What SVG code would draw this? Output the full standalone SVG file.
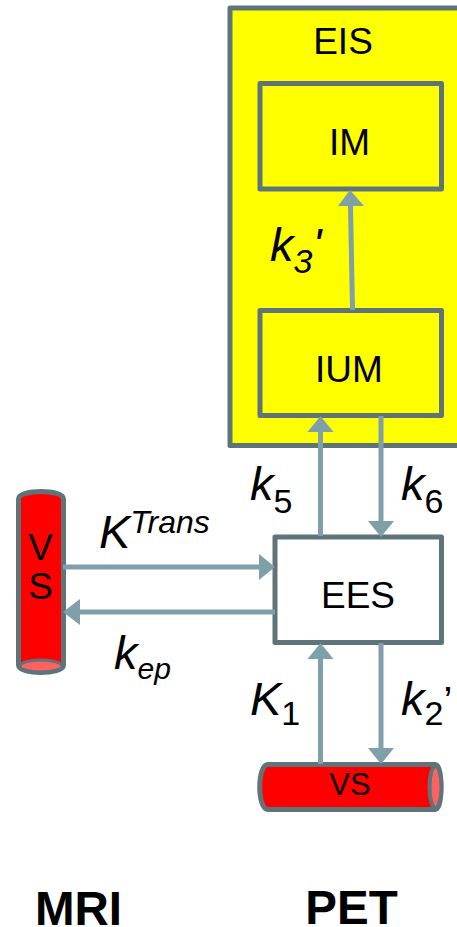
<svg xmlns="http://www.w3.org/2000/svg" width="457" height="927" viewBox="0 0 457 927">
<defs>
<style>
text{font-family:"Liberation Sans",Arial,sans-serif;fill:#000}
.box{stroke:#5f7479;stroke-width:5;stroke-linejoin:round}
.lbl{font-size:37px}
.k{font-size:47px;font-style:italic}
.sub{font-size:34px}
.b{font-size:47.5px;font-weight:bold}
.c{fill:none;stroke:#7f9fa9;stroke-width:5}
.h{fill:#7f9fa9}
</style>
</defs>
<rect width="457" height="927" fill="#fff"/>
<g id="eis">
<path class="box" fill="#ff0" d="M460 8H230V445.500H460"/>
<text class="lbl" x="343" y="54" text-anchor="middle">EIS</text>
</g>
<g id="im">
<rect class="box" fill="#ff0" x="260" y="83.500" width="181.500" height="105.500"/>
<text class="lbl" x="349.500" y="155" text-anchor="middle">IM</text>
</g>
<g id="ium">
<rect class="box" fill="#ff0" x="260" y="310.500" width="181.500" height="105"/>
<text class="lbl" x="349" y="382" text-anchor="middle">IUM</text>
</g>
<g id="ees">
<rect class="box" fill="#fff" x="275" y="537" width="166.500" height="105.500"/>
<text class="lbl" x="358" y="608" text-anchor="middle">EES</text>
</g>
<g id="vs-mri">
<path class="box" fill="#f00" d="M18.500 499C18.500 489 63.500 489 63.500 499V665C63.500 675 18.500 675 18.500 665Z"/>
<ellipse cx="41" cy="666" rx="21" ry="6" fill="#ff6060" stroke="#5f7479" stroke-width="3"/>
<text class="lbl" x="40.500" y="560" text-anchor="middle">V</text>
<text class="lbl" x="40.500" y="599" text-anchor="middle">S</text>
</g>
<g id="vs-pet">
<path class="box" fill="#f00" d="M268 764.500H435C443 764.500 443 809.500 435 809.500H268C257 809.500 257 764.500 268 764.500Z"/>
<ellipse cx="435.500" cy="787" rx="6" ry="21" fill="#ff6060" stroke="#5f7479" stroke-width="4"/>
<text class="lbl" x="350" y="795" text-anchor="middle" style="font-size:31px">VS</text>
</g>
<g id="connectors">
<path class="c" d="M352.500 310L350.500 205"/>
<polygon class="h" points="350,190 338,206 364,206"/>
<path class="c" d="M320.500 536V430"/>
<polygon class="h" points="320.500,416 307.500,432 333.500,432"/>
<path class="c" d="M381 416V522"/>
<polygon class="h" points="381,537 368,521 394,521"/>
<path class="c" d="M63 567H260"/>
<polygon class="h" points="275,567 259,554 259,580"/>
<path class="c" d="M275 612H78"/>
<polygon class="h" points="63,612 80,599 80,625"/>
<path class="c" d="M320.500 764V658"/>
<polygon class="h" points="320.500,643 307.500,659 333.500,659"/>
<path class="c" d="M381 643V749"/>
<polygon class="h" points="381,764 368,748 394,748"/>
</g>
<g id="labels">
<text class="k" x="270" y="261">k<tspan class="sub" dy="12">3</tspan><tspan dy="-12">'</tspan></text>
<text class="k" x="250" y="500">k<tspan class="sub" font-style="normal" dy="13">5</tspan></text>
<text class="k" x="401" y="500">k<tspan class="sub" font-style="normal" dy="13">6</tspan></text>
<text class="k" x="99" y="548">K<tspan style="font-size:32px" dy="-15">Trans</tspan></text>
<text class="k" x="114" y="669">k<tspan style="font-size:30px" dy="10">ep</tspan></text>
<text class="k" x="250" y="715">K<tspan class="sub" font-style="normal" dy="10">1</tspan></text>
<text class="k" x="401" y="715">k<tspan class="sub" font-style="normal" dy="10">2</tspan><tspan font-style="normal" style="font-size:40px" dy="-10">’</tspan></text>
<text class="b" x="78.500" y="925" text-anchor="middle">MRI</text>
<text class="b" x="351.500" y="923.500" text-anchor="middle">PET</text>
</g>
</svg>
